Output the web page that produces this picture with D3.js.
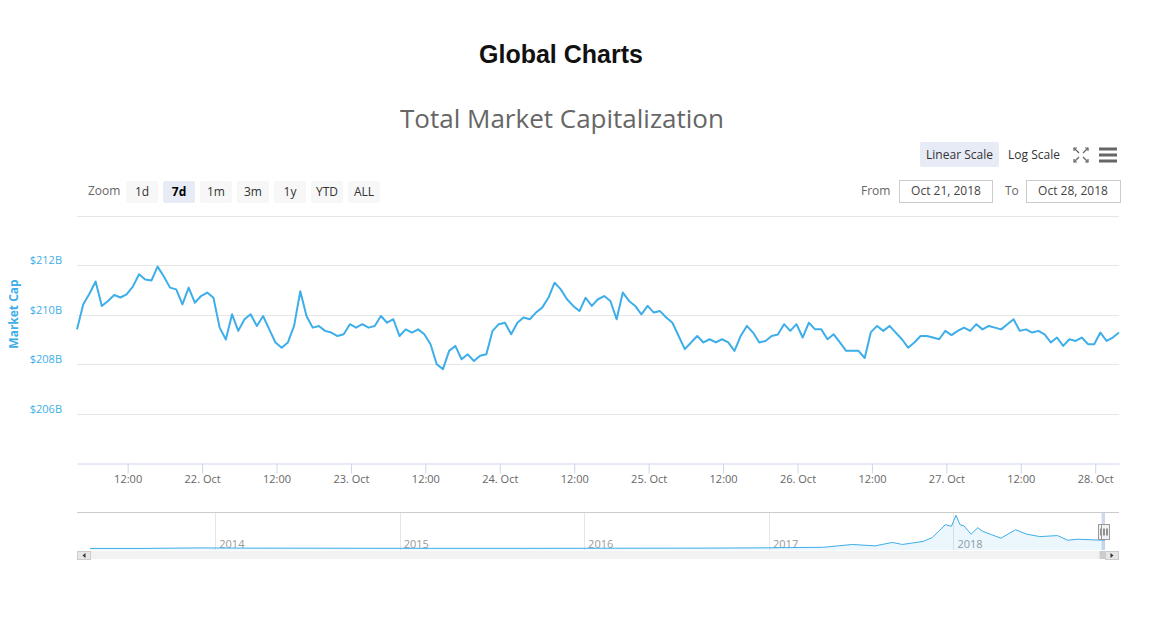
<!DOCTYPE html>
<html>
<head>
<meta charset="utf-8">
<script src="https://cdnjs.cloudflare.com/ajax/libs/d3/7.8.5/d3.min.js"></script>
<style>
  body { margin: 0; background: #fff; }
  svg text { font-family: "Open Sans", "DejaVu Sans", sans-serif; }
</style>
</head>
<body>
<svg id="chart"></svg>
<script>
// --- data ---
// hourly total market cap (billions USD), starting Oct 21 2018 03:50 UTC
const startTime = Date.UTC(2018, 9, 21, 3, 50)
const capValues = [
  209.41, 210.42, 210.85, 211.35, 210.36, 210.56, 210.80, 210.70, 210.83, 211.14,
  211.64, 211.43, 211.39, 211.95, 211.55, 211.10, 211.03, 210.42, 211.10, 210.49,
  210.76, 210.90, 210.69, 209.48, 209.00, 210.02, 209.35, 209.82, 210.02, 209.55,
  209.95, 209.41, 208.88, 208.67, 208.88, 209.55, 210.95, 209.95, 209.48, 209.55,
  209.35, 209.28, 209.14, 209.21, 209.62, 209.48, 209.62, 209.48, 209.55, 209.95,
  209.68, 209.82, 209.14, 209.41, 209.28, 209.41, 209.21, 208.81, 208.00, 207.80,
  208.54, 208.74, 208.20, 208.40, 208.13, 208.34, 208.40, 209.35, 209.62, 209.68,
  209.21, 209.68, 209.89, 209.82, 210.09, 210.29, 210.69, 211.30, 211.03, 210.63,
  210.36, 210.15, 210.69, 210.36, 210.63, 210.76, 210.56, 209.82, 210.90, 210.56,
  210.36, 210.02, 210.36, 210.09, 210.15, 209.89, 209.68, 209.14, 208.61, 208.88,
  209.14, 208.88, 209.01, 208.88, 209.01, 208.88, 208.54, 209.14, 209.55, 209.28,
  208.88, 208.94, 209.14, 209.20, 209.62, 209.35, 209.62, 209.08, 209.68, 209.41,
  209.41, 209.01, 209.21, 208.88, 208.54, 208.54, 208.54, 208.25, 209.30, 209.55,
  209.35, 209.55, 209.28, 209.01, 208.67, 208.88, 209.14, 209.14, 209.08, 209.01,
  209.35, 209.18, 209.35, 209.48, 209.35, 209.62, 209.41, 209.55, 209.48, 209.41,
  209.62, 209.82, 209.35, 209.41, 209.28, 209.35, 209.21, 208.88, 209.08, 208.74,
  209.01, 208.94, 209.08, 208.81, 208.81, 209.28, 208.94, 209.08, 209.28
]
const yTicks = [206, 208, 210, 212, 214]

// navigator: whole history (billions USD)
const navDates = [
  '2013-04-28', '2013-08-01', '2013-12-04', '2014-03-01', '2014-09-01', '2015-03-01',
  '2015-09-01', '2016-03-01', '2016-09-01', '2017-01-01', '2017-03-01', '2017-04-19',
  '2017-06-15', '2017-07-30', '2017-09-02', '2017-09-22', '2017-11-02', '2017-11-20',
  '2017-12-16', '2017-12-28', '2018-01-06', '2018-01-14', '2018-01-22', '2018-02-05',
  '2018-02-18', '2018-02-28', '2018-03-18', '2018-04-05', '2018-05-04', '2018-05-26',
  '2018-06-21', '2018-07-26', '2018-08-15', '2018-09-04', '2018-10-15', '2018-10-28'
]
const navValues = [
  1.5, 1.2, 15, 10, 7, 4,
  4, 7, 10, 17, 25, 30,
  100, 65, 150, 100, 175, 270,
  590, 550, 820, 590, 560, 355,
  515, 425, 340, 255, 465, 355,
  295, 320, 205, 230, 209, 209
]
const navYears = [2014, 2015, 2016, 2017, 2018]

const zoomButtons = ['1d', '7d', '1m', '3m', '1y', 'YTD', 'ALL']
const selectedZoom = '7d'

const width = 1158
const height = 623
const blue = '#3daee9'

const svg = d3.select('#chart')
  .attr('width', width)
  .attr('height', height)

drawTitles()
drawControls()
drawMain()
drawNavigator()

function drawTitles() {
  svg.append('text')
    .attr('x', 561).attr('y', 63)
    .attr('text-anchor', 'middle')
    .style('font-family', '"Liberation Sans", Arial, sans-serif')
    .style('font-weight', 'bold')
    .style('font-size', '25px')
    .attr('fill', '#111')
    .text('Global Charts')

  svg.append('text')
    .attr('x', 562).attr('y', 128)
    .attr('text-anchor', 'middle')
    .style('font-size', '26px')
    .attr('fill', '#666')
    .text('Total Market Capitalization')
}

function drawControls() {
  // --- linear / log scale buttons ---
  svg.append('rect')
    .attr('x', 920).attr('y', 142).attr('width', 79).attr('height', 25)
    .attr('rx', 2).attr('fill', '#e6ebf5')
  svg.append('text').attr('x', 959.5).attr('y', 159)
    .attr('text-anchor', 'middle').style('font-size', '12px').attr('fill', '#333')
    .text('Linear Scale')
  svg.append('text').attr('x', 1034).attr('y', 159)
    .attr('text-anchor', 'middle').style('font-size', '12px').attr('fill', '#333')
    .text('Log Scale')

  // fullscreen icon: four corner arrows
  const fs = svg.append('g').attr('stroke', '#666').attr('stroke-width', 1.2).attr('fill', 'none')
  const cx = 1081, cy = 155, r = 7
  ;[[-1, -1], [1, -1], [-1, 1], [1, 1]].forEach(function(c) {
    fs.append('line')
      .attr('x1', cx + c[0] * 2).attr('y1', cy + c[1] * 2)
      .attr('x2', cx + c[0] * r).attr('y2', cy + c[1] * r)
    fs.append('polyline')
      .attr('points', [
        [cx + c[0] * r, cy + c[1] * (r - 3)],
        [cx + c[0] * r, cy + c[1] * r],
        [cx + c[0] * (r - 3), cy + c[1] * r]
      ].join(' '))
  })

  // hamburger menu
  ;[149, 155, 161].forEach(function(y) {
    svg.append('rect')
      .attr('x', 1099).attr('y', y - 1.5).attr('width', 18).attr('height', 3)
      .attr('fill', '#666')
  })

  // --- zoom buttons ---
  svg.append('text').attr('x', 88).attr('y', 195)
    .style('font-size', '12px').attr('fill', '#666').text('Zoom')

  const btn = svg.append('g').selectAll('g')
    .data(zoomButtons)
    .join('g')
      .attr('transform', (d, i) => `translate(${126 + i * 37},181)`)
  btn.append('rect')
    .attr('width', 32).attr('height', 22).attr('rx', 2)
    .attr('fill', d => d === selectedZoom ? '#e6ebf5' : '#f7f7f7')
  btn.append('text')
    .attr('x', 16).attr('y', 15)
    .attr('text-anchor', 'middle')
    .style('font-size', '12px')
    .style('font-weight', d => d === selectedZoom ? 'bold' : 'normal')
    .attr('fill', d => d === selectedZoom ? '#000' : '#333')
    .text(d => d)

  // --- date range inputs ---
  svg.append('text').attr('x', 861).attr('y', 195)
    .style('font-size', '12px').attr('fill', '#666').text('From')
  svg.append('rect').attr('x', 899.5).attr('y', 180.5).attr('width', 93).attr('height', 22)
    .attr('fill', '#fff').attr('stroke', '#ccc')
  svg.append('text').attr('x', 946).attr('y', 195).attr('text-anchor', 'middle')
    .style('font-size', '12px').attr('fill', '#444').text('Oct 21, 2018')

  svg.append('text').attr('x', 1005).attr('y', 195)
    .style('font-size', '12px').attr('fill', '#666').text('To')
  svg.append('rect').attr('x', 1026.5).attr('y', 180.5).attr('width', 94).attr('height', 22)
    .attr('fill', '#fff').attr('stroke', '#ccc')
  svg.append('text').attr('x', 1073).attr('y', 195).attr('text-anchor', 'middle')
    .style('font-size', '12px').attr('fill', '#444').text('Oct 28, 2018')
}

function drawMain() {
  const left = 77, right = 1119, top = 216, bottom = 463
  const hour = 3600 * 1000
  const data = capValues.map((v, i) => ({ t: new Date(startTime + i * hour), v: v }))

  const x = d3.scaleUtc()
    .domain([new Date(startTime), new Date(startTime + (capValues.length - 1) * hour)])
    .range([left, right])
  const y = d3.scaleLinear()
    .domain([204, 214])
    .range([bottom, top])

  // --- grid ---
  svg.append('g').selectAll('line')
    .data(yTicks)
    .join('line')
      .attr('x1', left).attr('x2', right)
      .attr('y1', d => Math.round(y(d)) + 0.5).attr('y2', d => Math.round(y(d)) + 0.5)
      .attr('stroke', '#e6e6e6')

  // --- y labels (top one hidden like the original) ---
  svg.append('g').selectAll('text')
    .data(yTicks.filter(d => d < 214))
    .join('text')
      .attr('x', 62).attr('y', d => y(d) - 1)
      .attr('text-anchor', 'end')
      .style('font-size', '11px')
      .attr('fill', blue)
      .text(d => '$' + d + 'B')

  svg.append('text')
    .attr('transform', 'translate(18,314) rotate(-90)')
    .attr('text-anchor', 'middle')
    .style('font-size', '12px')
    .style('font-weight', 'bold')
    .attr('fill', blue)
    .text('Market Cap')

  // --- x axis ---
  const xAxis = d3.axisBottom(x)
    .ticks(d3.utcHour.every(12))
    .tickSize(10)
    .tickSizeOuter(0)
    .tickFormat(d => d.getUTCHours() === 0 ? d3.utcFormat('%-d. %b')(d) : d3.utcFormat('%H:%M')(d))
  const gx = svg.append('g')
    .attr('transform', `translate(0,${bottom + 0.5})`)
    .call(xAxis)
  gx.select('.domain').attr('stroke', '#ccd6eb')
  gx.selectAll('.tick line').attr('stroke', '#ccd6eb')
  gx.selectAll('.tick text')
    .attr('y', 12)
    .style('font-size', '11px')
    .style('font-family', '"Open Sans", "DejaVu Sans", sans-serif')
    .attr('fill', '#666')

  // --- series ---
  const line = d3.line()
    .x(d => x(d.t))
    .y(d => y(d.v))
  svg.append('path')
    .datum(data)
    .attr('d', line)
    .attr('fill', 'none')
    .attr('stroke', blue)
    .attr('stroke-width', 2)
    .attr('stroke-linejoin', 'round')
}

function drawNavigator() {
  const left = 77, right = 1119, top = 512, bottom = 550
  const parse = d3.utcParse('%Y-%m-%d')
  const data = navDates.map((d, i) => ({ t: parse(d), v: navValues[i] }))

  const x = d3.scaleUtc()
    .domain(d3.extent(data, d => d.t))
    .range([90, 1105])
  const y = d3.scaleLinear()
    .domain([0, 830])
    .range([bottom - 1.5, top + 3])

  // --- year grid and labels ---
  const years = navYears.map(d => new Date(Date.UTC(d, 0, 1)))
  svg.append('g').selectAll('line')
    .data(years)
    .join('line')
      .attr('x1', d => Math.round(x(d)) + 0.5).attr('x2', d => Math.round(x(d)) + 0.5)
      .attr('y1', top).attr('y2', bottom)
      .attr('stroke', '#e6e6e6')
  svg.append('g').selectAll('text')
    .data(years)
    .join('text')
      .attr('x', d => x(d) + 4).attr('y', 548)
      .style('font-size', '11px')
      .attr('fill', '#999')
      .text(d => d.getUTCFullYear())

  // --- series ---
  const area = d3.area()
    .x(d => x(d.t))
    .y0(bottom)
    .y1(d => y(d.v))
  const line = d3.line()
    .x(d => x(d.t))
    .y(d => y(d.v))
  svg.append('path').datum(data)
    .attr('d', area)
    .attr('fill', 'rgba(61,174,233,0.1)')
  svg.append('path').datum(data)
    .attr('d', line)
    .attr('fill', 'none')
    .attr('stroke', blue)
    .attr('stroke-width', 1)

  // outline
  svg.append('line')
    .attr('x1', left).attr('x2', right).attr('y1', top + 0.5).attr('y2', top + 0.5)
    .attr('stroke', '#ccc')

  // --- selected range (Oct 21 - Oct 28) ---
  const x0 = x(new Date(startTime))
  const x1 = x(new Date(startTime + 168 * 3600 * 1000))
  svg.append('rect')
    .attr('x', x0).attr('y', top + 1).attr('width', Math.max(x1 - x0, 3)).attr('height', bottom - top - 1)
    .attr('fill', 'rgba(102,133,194,0.3)')
  ;[x0, x1].forEach(function(hx) {
    const g = svg.append('g').attr('transform', `translate(${Math.round(hx) + 0.5},524.5)`)
    g.append('rect')
      .attr('x', -4).attr('width', 8).attr('height', 15)
      .attr('fill', '#f2f2f2').attr('stroke', '#999')
    ;[-1.5, 1.5].forEach(function(dx) {
      g.append('line')
        .attr('x1', dx).attr('x2', dx).attr('y1', 4).attr('y2', 11)
        .attr('stroke', '#333')
    })
  })

  // --- scrollbar ---
  svg.append('rect')
    .attr('x', left).attr('y', 551).attr('width', right - left).attr('height', 8)
    .attr('fill', '#f2f2f2')
  svg.append('rect')
    .attr('x', x0 - 2).attr('y', 551).attr('width', 6).attr('height', 8)
    .attr('fill', '#ccc')
  ;[[left, 1], [right - 14, -1]].forEach(function(b) {
    svg.append('rect')
      .attr('x', b[0] + 0.5).attr('y', 551.5).attr('width', 13).attr('height', 8)
      .attr('fill', '#e6e6e6').attr('stroke', '#ccc')
    const ax = b[0] + 7
    svg.append('path')
      .attr('d', b[1] > 0
        ? `M${ax + 1.5},553 L${ax - 1.5},555.5 L${ax + 1.5},558 Z`
        : `M${ax - 1.5},553 L${ax + 1.5},555.5 L${ax - 1.5},558 Z`)
      .attr('fill', '#333')
  })
}
</script>
</body>
</html>
